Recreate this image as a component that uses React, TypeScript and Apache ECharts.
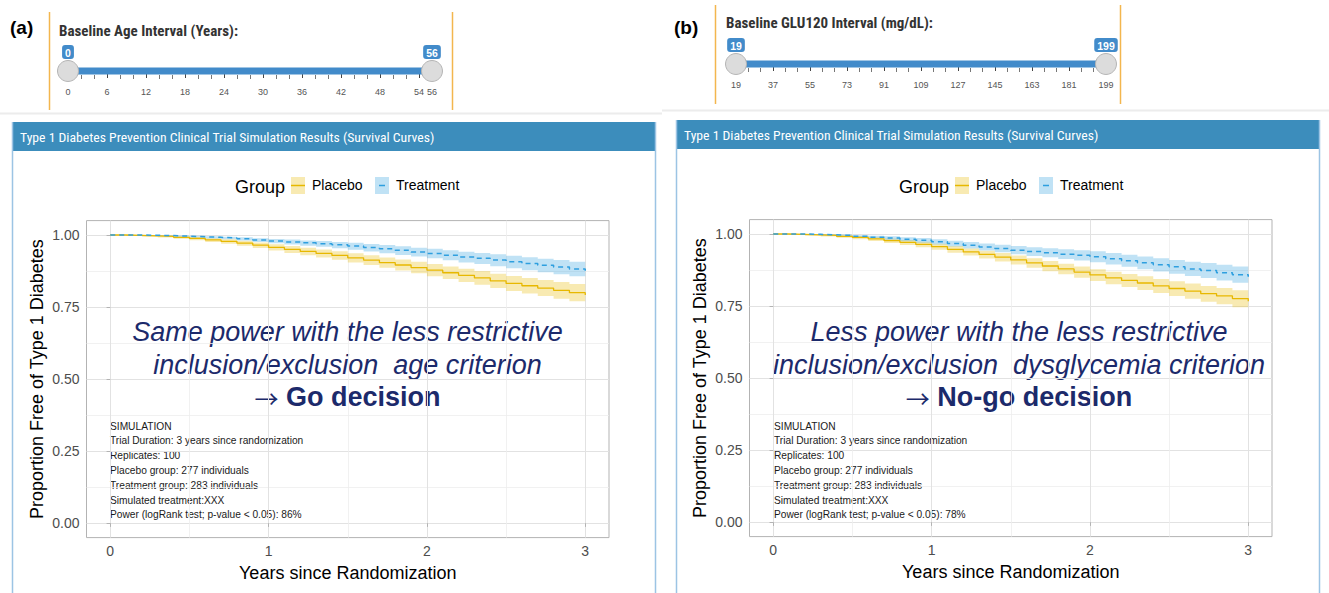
import React, { useEffect, useRef } from "react";
import * as echarts from "echarts";

// ---------- data ----------
const YEARS = [0, 0.1, 0.2, 0.3, 0.4, 0.5, 0.6, 0.7, 0.8, 0.9, 1.0, 1.1, 1.2, 1.3, 1.4, 1.5, 1.6, 1.7, 1.8, 1.9, 2.0, 2.1, 2.2, 2.3, 2.4, 2.5, 2.6, 2.7, 2.8, 2.9, 3.0];

// Panel (a) – age criterion
const A_PLACEBO = [1.000, 0.999, 0.997, 0.995, 0.992, 0.988, 0.983, 0.978, 0.972, 0.965, 0.957, 0.950, 0.943, 0.936, 0.929, 0.921, 0.913, 0.904, 0.896, 0.887, 0.878, 0.869, 0.860, 0.851, 0.841, 0.832, 0.824, 0.816, 0.808, 0.800, 0.792];
const A_PLACEBO_HI = [1.000, 1.000, 0.999, 0.998, 0.996, 0.993, 0.989, 0.985, 0.980, 0.974, 0.968, 0.962, 0.956, 0.950, 0.944, 0.937, 0.930, 0.922, 0.915, 0.907, 0.899, 0.891, 0.883, 0.875, 0.866, 0.858, 0.851, 0.844, 0.837, 0.830, 0.823];
const A_PLACEBO_LO = [1.000, 0.997, 0.994, 0.991, 0.987, 0.982, 0.976, 0.970, 0.963, 0.955, 0.946, 0.938, 0.930, 0.922, 0.914, 0.905, 0.896, 0.886, 0.877, 0.867, 0.857, 0.847, 0.837, 0.827, 0.816, 0.806, 0.797, 0.788, 0.779, 0.770, 0.760];
const A_TREAT = [1.000, 1.000, 0.999, 0.998, 0.996, 0.994, 0.992, 0.990, 0.987, 0.983, 0.979, 0.976, 0.973, 0.970, 0.966, 0.962, 0.957, 0.952, 0.947, 0.941, 0.936, 0.930, 0.924, 0.919, 0.913, 0.907, 0.901, 0.895, 0.889, 0.882, 0.876];
const A_TREAT_HI = [1.000, 1.000, 1.000, 0.999, 0.998, 0.997, 0.996, 0.994, 0.992, 0.989, 0.986, 0.984, 0.981, 0.979, 0.976, 0.973, 0.969, 0.965, 0.961, 0.956, 0.952, 0.947, 0.942, 0.938, 0.933, 0.928, 0.923, 0.918, 0.913, 0.907, 0.902];
const A_TREAT_LO = [1.000, 0.999, 0.998, 0.996, 0.994, 0.991, 0.988, 0.985, 0.981, 0.976, 0.971, 0.967, 0.963, 0.959, 0.954, 0.949, 0.943, 0.937, 0.931, 0.925, 0.919, 0.912, 0.905, 0.899, 0.892, 0.885, 0.878, 0.871, 0.864, 0.857, 0.850];

// Panel (b) – dysglycemia criterion
const B_PLACEBO = [1.000, 0.999, 0.997, 0.995, 0.992, 0.988, 0.983, 0.977, 0.971, 0.964, 0.956, 0.947, 0.938, 0.929, 0.920, 0.910, 0.900, 0.889, 0.879, 0.868, 0.858, 0.848, 0.839, 0.830, 0.820, 0.811, 0.802, 0.793, 0.785, 0.776, 0.767];
const B_PLACEBO_HI = [1.000, 1.000, 0.999, 0.998, 0.996, 0.993, 0.989, 0.984, 0.979, 0.973, 0.966, 0.958, 0.950, 0.942, 0.934, 0.925, 0.916, 0.906, 0.897, 0.887, 0.878, 0.869, 0.861, 0.853, 0.844, 0.836, 0.828, 0.820, 0.813, 0.805, 0.797];
const B_PLACEBO_LO = [1.000, 0.997, 0.994, 0.991, 0.987, 0.982, 0.976, 0.969, 0.962, 0.954, 0.945, 0.935, 0.925, 0.915, 0.905, 0.894, 0.883, 0.871, 0.860, 0.848, 0.837, 0.826, 0.816, 0.806, 0.795, 0.785, 0.775, 0.765, 0.756, 0.746, 0.737];
const B_TREAT = [1.000, 1.000, 0.999, 0.997, 0.995, 0.992, 0.989, 0.986, 0.982, 0.978, 0.973, 0.967, 0.961, 0.955, 0.950, 0.944, 0.939, 0.935, 0.930, 0.926, 0.921, 0.914, 0.907, 0.900, 0.893, 0.886, 0.879, 0.873, 0.866, 0.859, 0.852];
const B_TREAT_HI = [1.000, 1.000, 1.000, 0.999, 0.998, 0.996, 0.994, 0.992, 0.989, 0.986, 0.982, 0.977, 0.972, 0.967, 0.963, 0.958, 0.954, 0.951, 0.947, 0.944, 0.940, 0.934, 0.928, 0.922, 0.916, 0.910, 0.904, 0.899, 0.893, 0.887, 0.881];
const B_TREAT_LO = [1.000, 0.999, 0.997, 0.995, 0.992, 0.988, 0.984, 0.980, 0.975, 0.970, 0.964, 0.957, 0.950, 0.943, 0.937, 0.930, 0.924, 0.919, 0.913, 0.908, 0.902, 0.894, 0.886, 0.878, 0.870, 0.862, 0.854, 0.847, 0.839, 0.831, 0.823];

const X_TICKS = [0, 1, 2, 3];
const X_MINOR = [0.5, 1.5, 2.5];
const Y_TICKS = [0, 0.25, 0.5, 0.75, 1];
const Y_MINOR = [0.125, 0.375, 0.625, 0.875];

const AGE_RANGE = [0, 56];
const AGE_TICKS = [0, 6, 12, 18, 24, 30, 36, 42, 48, 54, 56];
const GLU_RANGE = [19, 199];
const GLU_TICKS = [19, 37, 55, 73, 91, 109, 127, 145, 163, 181, 199];

const GROUPS = ["Placebo", "Treatment"];
const LINE_COLORS = ["#E7B800", "#2E9FDF"];
const BAND_COLORS = ["rgba(231,184,0,0.3)", "rgba(46,159,223,0.3)"];

const HEADER = "Type 1 Diabetes Prevention Clinical Trial Simulation Results (Survival Curves)";
const SIM_A = [
  "SIMULATION",
  "Trial Duration: 3 years since randomization",
  "Replicates: 100",
  "Placebo group: 277 individuals",
  "Treatment group: 283 individuals",
  "Simulated treatment:XXX",
  "Power (logRank test; p-value < 0.05): 86%",
];
const SIM_B = [
  "SIMULATION",
  "Trial Duration: 3 years since randomization",
  "Replicates: 100",
  "Placebo group: 277 individuals",
  "Treatment group: 283 individuals",
  "Simulated treatment:XXX",
  "Power (logRank test; p-value < 0.05): 78%",
];
const NOTE_A = ["Same power with the less restrictive", "inclusion/exclusion\u00a0 age criterion", "Go decision"];
const NOTE_B = ["Less power with the less restrictive", "inclusion/exclusion\u00a0 dysglycemia criterion", "No-go decision"];

// ---------- helpers ----------
const ARIAL = "'Liberation Sans', Arial, sans-serif";
const NARROW = "'Liberation Sans Narrow', 'Roboto Condensed', Lato, sans-serif";
const NAVY = "#1c2a6b";

function minorOf(ticks: number[], step: number) {
  const out: number[] = [];
  for (let i = 0; i < ticks.length - 1; i++) {
    if (Math.abs(ticks[i + 1] - ticks[i] - step) < 1e-9) {
      out.push(ticks[i] + step / 3, ticks[i] + (2 * step) / 3);
    }
  }
  return out;
}

function bandSeries(xi: number, yi: number, lo: number[], hi: number[], color: string) {
  return {
    type: "custom",
    xAxisIndex: xi,
    yAxisIndex: yi,
    silent: true,
    clip: true,
    z: 2,
    data: YEARS.map((t, i) => [t, lo[i], hi[i]]),
    encode: { x: 0, y: [1, 2] },
    renderItem: (params: any, api: any) => {
      if (params.dataIndex !== 0) return null;
      const top: number[][] = [];
      const bot: number[][] = [];
      for (let i = 0; i < YEARS.length; i++) {
        const tn = i < YEARS.length - 1 ? YEARS[i + 1] : YEARS[i];
        top.push(api.coord([YEARS[i], hi[i]]), api.coord([tn, hi[i]]));
        bot.push(api.coord([YEARS[i], lo[i]]), api.coord([tn, lo[i]]));
      }
      return {
        type: "polygon",
        shape: { points: top.concat(bot.reverse()) },
        style: { fill: color, stroke: null },
      };
    },
  };
}

function lineSeries(xi: number, yi: number, vals: number[], k: number) {
  return {
    type: "line",
    name: GROUPS[k],
    xAxisIndex: xi,
    yAxisIndex: yi,
    step: "end",
    silent: true,
    symbol: "none",
    showSymbol: false,
    z: 3,
    data: YEARS.map((t, i) => [t, vals[i]]),
    lineStyle: { color: LINE_COLORS[k], width: k === 0 ? 1.3 : 1.5, type: k === 0 ? "solid" : [5, 4] },
  };
}

function plotAxes(grid: number) {
  const xMajor = {
    type: "value",
    gridIndex: grid,
    min: -0.15,
    max: 3.15,
    position: "bottom",
    axisLine: { show: false },
    axisTick: { show: true, customValues: X_TICKS, length: 3.7, lineStyle: { color: "#b3b3b3" } },
    axisLabel: { customValues: X_TICKS, margin: 6, fontSize: 14, color: "#4d4d4d", fontFamily: ARIAL, formatter: (v: number) => String(v) },
    splitLine: { show: true, lineStyle: { color: "#e2e2e2", width: 1 } },
    name: "Years since Randomization",
    nameLocation: "middle",
    nameGap: 26,
    nameTextStyle: { fontSize: 18, color: "#000", fontFamily: ARIAL },
  };
  const xMinor = {
    type: "value",
    gridIndex: grid,
    min: -0.15,
    max: 3.15,
    position: "bottom",
    axisLine: { show: false },
    axisTick: { show: false, customValues: X_MINOR },
    axisLabel: { show: false },
    splitLine: { show: true, lineStyle: { color: "#ededed", width: 0.8 } },
  };
  const yMajor = {
    type: "value",
    gridIndex: grid,
    min: -0.05,
    max: 1.05,
    position: "left",
    axisLine: { show: false },
    axisTick: { show: true, customValues: Y_TICKS, length: 3.7, lineStyle: { color: "#b3b3b3" } },
    axisLabel: { customValues: Y_TICKS, margin: 7, fontSize: 14, color: "#4d4d4d", fontFamily: ARIAL, formatter: (v: number) => v.toFixed(2) },
    splitLine: { show: true, lineStyle: { color: "#e2e2e2", width: 1 } },
    name: "Proportion Free of Type 1 Diabetes",
    nameLocation: "middle",
    nameRotate: 90,
    nameGap: 41,
    nameTextStyle: { fontSize: 18, color: "#000", fontFamily: ARIAL },
  };
  const yMinor = {
    type: "value",
    gridIndex: grid,
    min: -0.05,
    max: 1.05,
    position: "left",
    axisLine: { show: false },
    axisTick: { show: false, customValues: Y_MINOR },
    axisLabel: { show: false },
    splitLine: { show: true, lineStyle: { color: "#ededed", width: 0.8 } },
  };
  return { x: [xMajor, xMinor], y: [yMajor, yMinor] };
}

function sliderAxes(grid: number, range: number[], ticks: number[]) {
  const step = ticks[1] - ticks[0];
  const major = {
    type: "value",
    gridIndex: grid,
    min: range[0],
    max: range[1],
    position: "bottom",
    axisLine: { show: false },
    axisTick: { show: true, customValues: ticks, length: 7, lineStyle: { color: "#444", width: 1 } },
    axisLabel: { customValues: ticks, margin: 12, fontSize: 9, color: "#555", fontFamily: ARIAL, formatter: (v: number) => String(v) },
    splitLine: { show: false },
  };
  const minor = {
    type: "value",
    gridIndex: grid,
    min: range[0],
    max: range[1],
    position: "bottom",
    axisLine: { show: false },
    axisTick: { show: true, customValues: minorOf(ticks, step), length: 4, lineStyle: { color: "#777", width: 1 } },
    axisLabel: { show: false },
    splitLine: { show: false },
  };
  const y = { type: "value", gridIndex: grid, min: -1, max: 1, show: false };
  return { x: [major, minor], y };
}

function sliderSeries(xi: number, yi: number, range: number[]) {
  return [
    {
      type: "line",
      xAxisIndex: xi,
      yAxisIndex: yi,
      silent: true,
      symbol: "none",
      z: 2,
      data: [[range[0], 0], [range[1], 0]],
      lineStyle: { color: "#428bca", width: 7, cap: "butt" },
    },
    {
      type: "scatter",
      xAxisIndex: xi,
      yAxisIndex: yi,
      silent: true,
      z: 3,
      symbolSize: 21,
      data: [[range[0], 0], [range[1], 0]],
      itemStyle: { color: "#dcdcdc", borderColor: "#b5b5b5", borderWidth: 1, opacity: 1 },
      label: {
        show: true,
        position: "top",
        distance: 1,
        formatter: (p: any) => String(p.value[0]),
        color: "#fff",
        backgroundColor: "#428bca",
        borderRadius: 3,
        padding: [2, 3, 1, 3],
        fontSize: 10.5,
        fontWeight: "bold",
        fontFamily: ARIAL,
      },
    },
  ];
}

function text(x: number, y: number, t: string, style: any) {
  return {
    type: "text",
    silent: true,
    style: { text: t, x, y, textAlign: "left", textVerticalAlign: "middle", align: "left", verticalAlign: "middle", fontFamily: ARIAL, fill: "#000", ...style },
  };
}

function line(x1: number, y1: number, x2: number, y2: number, stroke: string, w: number, dash?: number[]) {
  return { type: "line", silent: true, shape: { x1, y1, x2, y2 }, style: { stroke, lineWidth: w, lineDash: dash } };
}

function panelGraphics(dx: number, opts: any) {
  const g: any[] = [];
  // panel label
  g.push(text(10 + dx, 27, opts.label, { fontSize: 19, fontWeight: "bold" }));
  // slider frame
  g.push(line(opts.frameL + 0.5, opts.frameTop, opts.frameL + 0.5, opts.frameBot, "#f3b64e", 1.5));
  g.push(line(opts.frameR + 0.5, opts.frameTop, opts.frameR + 0.5, opts.frameBot, "#f3b64e", 1.5));
  g.push(text(opts.titleX, opts.titleY, opts.title, { fontSize: 15, fontWeight: "bold", fill: "#333", fontFamily: NARROW }));
  // separator
  g.push(line(opts.sepL, opts.sepY, opts.sepR, opts.sepY, "#ececec", 2));
  // box
  g.push({ type: "rect", silent: true, shape: { x: opts.boxL, y: opts.boxTop, width: opts.boxR - opts.boxL, height: 29 }, style: { fill: "#3c8dbc" } });
  g.push(line(opts.boxL + 0.5, opts.boxTop, opts.boxL + 0.5, 593, "#9cc4e4", 1.5));
  g.push(line(opts.boxR - 0.5, opts.boxTop, opts.boxR - 0.5, 593, "#9cc4e4", 1.5));
  g.push(text(opts.boxL + 8, opts.boxTop + 15, HEADER, { fontSize: 13.7, fill: "#fff", fontFamily: NARROW }));
  // legend
  const ly = 185.5;
  g.push(text(235 + dx, 186.5, "Group", { fontSize: 18 }));
  g.push({ type: "rect", silent: true, shape: { x: 291 + dx, y: 177, width: 14, height: 17 }, style: { fill: BAND_COLORS[0] } });
  g.push(line(291 + dx, ly, 305 + dx, ly, LINE_COLORS[0], 1.5));
  g.push(text(312 + dx, 185, GROUPS[0], { fontSize: 14 }));
  g.push({ type: "rect", silent: true, shape: { x: 375 + dx, y: 177, width: 14, height: 17 }, style: { fill: BAND_COLORS[1] } });
  g.push(line(379 + dx, ly, 385 + dx, ly, LINE_COLORS[1], 1.5));
  g.push(text(396 + dx, 185, GROUPS[1], { fontSize: 14 }));
  // annotation
  const cx = opts.noteX;
  g.push(text(cx, 332, opts.note[0], { fontSize: 27, fontStyle: "italic", fill: NAVY, textAlign: "center", align: "center" }));
  g.push(text(cx, 365, opts.note[1], { fontSize: 27, fontStyle: "italic", fill: NAVY, textAlign: "center", align: "center" }));
  g.push({
    type: "text",
    silent: true,
    style: {
      x: cx,
      y: 397,
      text: "{n|\u2192}{s| }{b|" + opts.note[2] + "}",
      textAlign: "center",
      align: "center",
      textVerticalAlign: "middle",
      verticalAlign: "middle",
      fill: NAVY,
      fontFamily: ARIAL,
      fontSize: 27,
      rich: {
        n: { fontSize: 24, fontFamily: "'Noto Sans CJK SC', 'Noto Sans', sans-serif", fontWeight: "normal", fill: NAVY, color: NAVY },
        s: { fontSize: 27, fontFamily: ARIAL, fill: NAVY, color: NAVY },
        b: { fontSize: 27, fontWeight: "bold", fontFamily: ARIAL, fill: NAVY, color: NAVY },
      },
    },
  });
  // simulation block
  opts.sim.forEach((s: string, i: number) => {
    g.push(text(110 + dx, 426 + i * 14.8, s, { fontSize: 10.2, fill: "#1a1a1a" }));
  });
  return g;
}

function buildOption() {
  const pA = plotAxes(0);
  const pB = plotAxes(1);
  const sA = sliderAxes(2, AGE_RANGE, AGE_TICKS);
  const sB = sliderAxes(3, GLU_RANGE, GLU_TICKS);

  const graphic = [
    ...panelGraphics(0, {
      label: "(a)",
      frameL: 49, frameR: 452, frameTop: 12, frameBot: 110,
      title: "Baseline Age Interval (Years):", titleX: 59, titleY: 31,
      sepL: 0, sepR: 662, sepY: 113.5,
      boxL: 12, boxR: 656, boxTop: 122,
      noteX: 347.5, note: NOTE_A, sim: SIM_A,
    }),
    ...panelGraphics(664, {
      label: "(b)",
      frameL: 715, frameR: 1120, frameTop: 5, frameBot: 104,
      title: "Baseline GLU120 Interval (mg/dL):", titleX: 726, titleY: 23,
      sepL: 662, sepR: 1329, sepY: 110.5,
      boxL: 676, boxR: 1320, boxTop: 120,
      noteX: 1019, note: NOTE_B, sim: SIM_B,
    }),
  ];

  return {
    animation: false,
    backgroundColor: "#fff",
    grid: [
      { left: 86.5, top: 220.6, width: 522.5, height: 317, show: true, borderColor: "#b3b3b3", borderWidth: 1, backgroundColor: "transparent", containLabel: false },
      { left: 749.5, top: 219.6, width: 522.5, height: 317, show: true, borderColor: "#b3b3b3", borderWidth: 1, backgroundColor: "transparent", containLabel: false },
      { left: 68, top: 67, width: 364, height: 8, show: false },
      { left: 736, top: 60, width: 370, height: 8, show: false },
    ],
    xAxis: [...pA.x, ...pB.x, ...sA.x, ...sB.x],
    yAxis: [...pA.y, ...pB.y, sA.y, sB.y],
    series: [
      bandSeries(0, 0, A_PLACEBO_LO, A_PLACEBO_HI, BAND_COLORS[0]),
      bandSeries(0, 0, A_TREAT_LO, A_TREAT_HI, BAND_COLORS[1]),
      lineSeries(0, 0, A_PLACEBO, 0),
      lineSeries(0, 0, A_TREAT, 1),
      bandSeries(2, 2, B_PLACEBO_LO, B_PLACEBO_HI, BAND_COLORS[0]),
      bandSeries(2, 2, B_TREAT_LO, B_TREAT_HI, BAND_COLORS[1]),
      lineSeries(2, 2, B_PLACEBO, 0),
      lineSeries(2, 2, B_TREAT, 1),
      ...sliderSeries(4, 4, AGE_RANGE),
      ...sliderSeries(6, 5, GLU_RANGE),
    ],
    graphic,
  };
}

export default function App() {
  const ref = useRef<HTMLDivElement>(null);
  useEffect(() => {
    const chart = echarts.init(ref.current as HTMLDivElement, null, { renderer: "svg" });
    chart.setOption(buildOption() as any);
    return () => chart.dispose();
  }, []);
  return <div ref={ref} style={{ position: "absolute", left: 0, top: 0, width: 1329, height: 593, background: "#fff" }} />;
}
